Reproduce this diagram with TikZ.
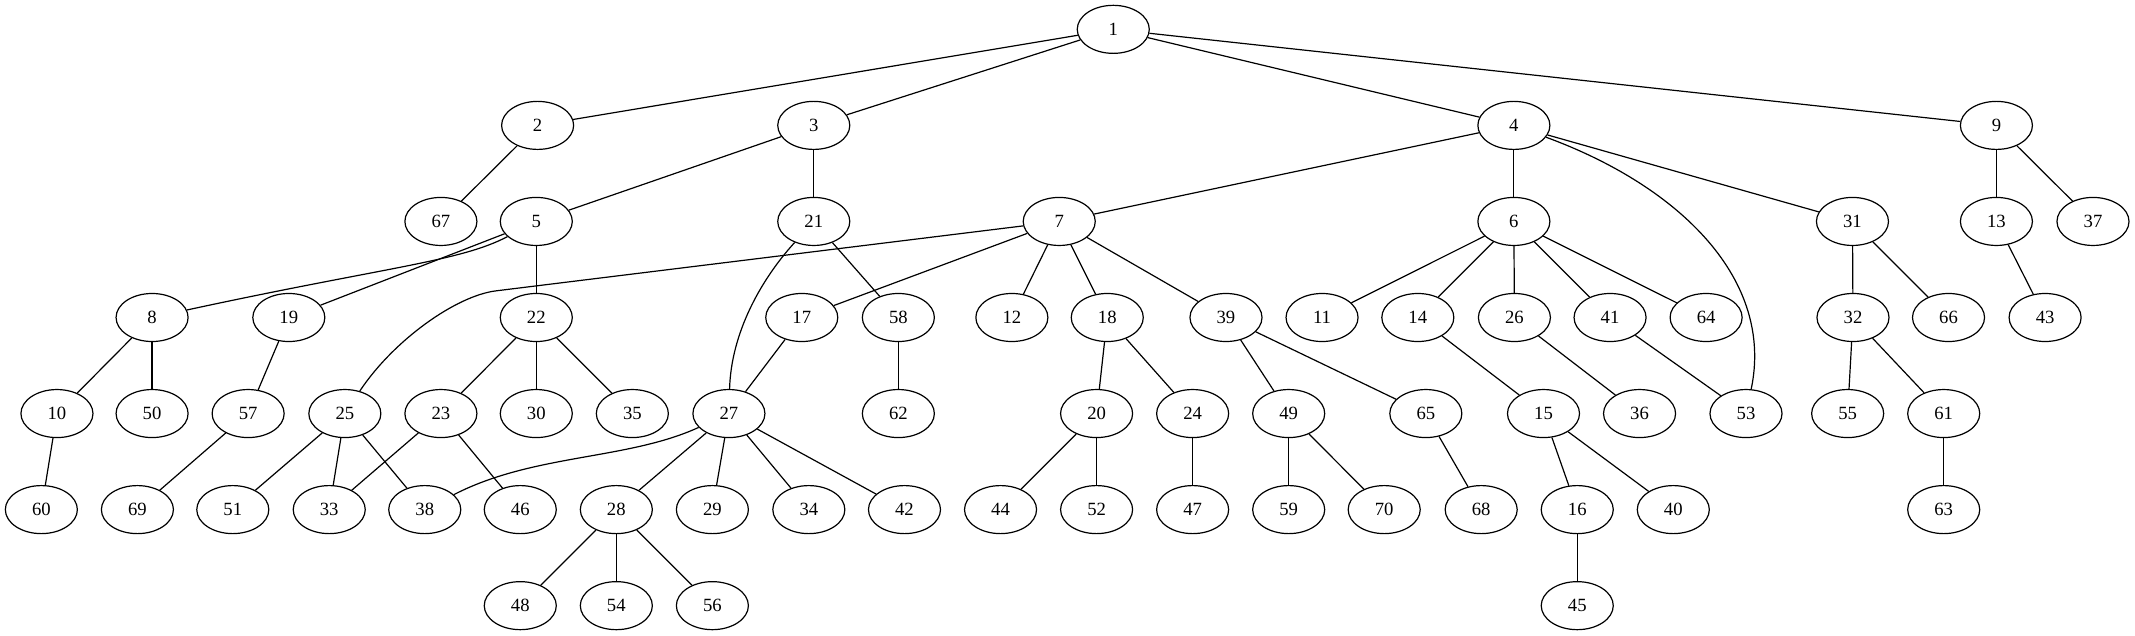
\documentclass[tikz,border=0pt]{standalone}
\usepackage{fontspec}
\setmainfont{Liberation Serif}
\usetikzlibrary{shapes.geometric}
\begin{document}
\begin{tikzpicture}[x=1pt,y=-1pt,
  gv/.style={ellipse,draw,line width=0.9pt,minimum width=54pt,minimum height=36pt,inner sep=0pt,font=\fontsize{14}{16}\selectfont},
  link/.style={line width=0.9pt}]
\useasboundingbox (0,0) rectangle (1600.4,476);
% rank 0
\node[gv] (n1) at (834.5,22) {1};
% rank 1
\node[gv] (n2) at (403,94) {2};
\node[gv] (n3) at (610,94) {3};
\node[gv] (n4) at (1134.8,94) {4};
\node[gv] (n9) at (1496.5,94) {9};
% rank 2
\node[gv] (n67) at (330.5,166) {67};
\node[gv] (n5) at (402,166) {5};
\node[gv] (n21) at (610,166) {21};
\node[gv] (n7) at (794,166) {7};
\node[gv] (n6) at (1134.8,166) {6};
\node[gv] (n31) at (1388.6,166) {31};
\node[gv] (n13) at (1496.5,166) {13};
\node[gv] (n37) at (1568.9,166) {37};
% rank 3
\node[gv] (n8) at (114,238) {8};
\node[gv] (n19) at (216.5,238) {19};
\node[gv] (n22) at (402,238) {22};
\node[gv] (n17) at (601,238) {17};
\node[gv] (n58) at (673.4,238) {58};
\node[gv] (n12) at (758.5,238) {12};
\node[gv] (n18) at (830,238) {18};
\node[gv] (n39) at (919,238) {39};
\node[gv] (n11) at (991,238) {11};
\node[gv] (n14) at (1062.8,238) {14};
\node[gv] (n26) at (1135.2,238) {26};
\node[gv] (n41) at (1206.9,238) {41};
\node[gv] (n64) at (1278.9,238) {64};
\node[gv] (n32) at (1389,238) {32};
\node[gv] (n66) at (1460.6,238) {66};
\node[gv] (n43) at (1533,238) {43};
% rank 4
\node[gv] (n10) at (42.7,310) {10};
\node[gv] (n50) at (114,310) {50};
\node[gv] (n57) at (186,310) {57};
\node[gv] (n25) at (258.5,310) {25};
\node[gv] (n23) at (330.5,310) {23};
\node[gv] (n30) at (402,310) {30};
\node[gv] (n35) at (474,310) {35};
\node[gv] (n27) at (546.4,310) {27};
\node[gv] (n62) at (673.4,310) {62};
\node[gv] (n20) at (822,310) {20};
\node[gv] (n24) at (894,310) {24};
\node[gv] (n49) at (966,310) {49};
\node[gv] (n65) at (1068.8,310) {65};
\node[gv] (n15) at (1157,310) {15};
\node[gv] (n36) at (1229,310) {36};
\node[gv] (n53) at (1308.8,310) {53};
\node[gv] (n55) at (1385,310) {55};
\node[gv] (n61) at (1457,310) {61};
% rank 5
\node[gv] (n60) at (31,382) {60};
\node[gv] (n69) at (103,382) {69};
\node[gv] (n51) at (174.5,382) {51};
\node[gv] (n33) at (246.8,382) {33};
\node[gv] (n38) at (318.4,382) {38};
\node[gv] (n46) at (390,382) {46};
\node[gv] (n28) at (462,382) {28};
\node[gv] (n29) at (534,382) {29};
\node[gv] (n34) at (606.3,382) {34};
\node[gv] (n42) at (678,382) {42};
\node[gv] (n44) at (750,382) {44};
\node[gv] (n52) at (822,382) {52};
\node[gv] (n47) at (894,382) {47};
\node[gv] (n59) at (966,382) {59};
\node[gv] (n70) at (1037.6,382) {70};
\node[gv] (n68) at (1110.3,382) {68};
\node[gv] (n16) at (1182.3,382) {16};
\node[gv] (n40) at (1254.3,382) {40};
\node[gv] (n63) at (1457,382) {63};
% rank 6
\node[gv] (n48) at (390,454) {48};
\node[gv] (n54) at (462,454) {54};
\node[gv] (n56) at (534,454) {56};
\node[gv] (n45) at (1182.3,454) {45};
% straight edges
\foreach \a/\b in {1/2,1/3,1/4,1/9,2/67,3/5,3/21,4/7,4/6,4/31,9/13,9/37,
  5/19,5/22,21/58,7/17,7/12,7/18,7/39,6/11,6/14,6/26,6/41,6/64,31/32,31/66,
  13/43,8/10,8/50,19/57,22/23,22/30,22/35,17/27,58/62,18/20,18/24,39/49,39/65,
  14/15,26/36,41/53,32/55,32/61,10/60,57/69,25/51,25/33,25/38,23/33,23/46,
  27/28,27/29,27/34,27/42,20/44,20/52,24/47,49/59,49/70,65/68,15/16,15/40,
  61/63,28/48,28/54,28/56,16/45}
  \draw[link] (n\a) -- (n\b);
% curved edges
\draw[link] (n5) .. controls (345,196) and (290,200) .. (n8);
\draw[link] (n7) -- (372,218) .. controls (342,221.6) and (295,255) .. (n25);
\draw[link] (n21) .. controls (570,210) and (548,250) .. (n27);
\draw[link] (n27) .. controls (470,345) and (400,340) .. (n38);
\draw[link] (n4) .. controls (1260,140) and (1330,210) .. (n53);
\end{tikzpicture}
\end{document}
